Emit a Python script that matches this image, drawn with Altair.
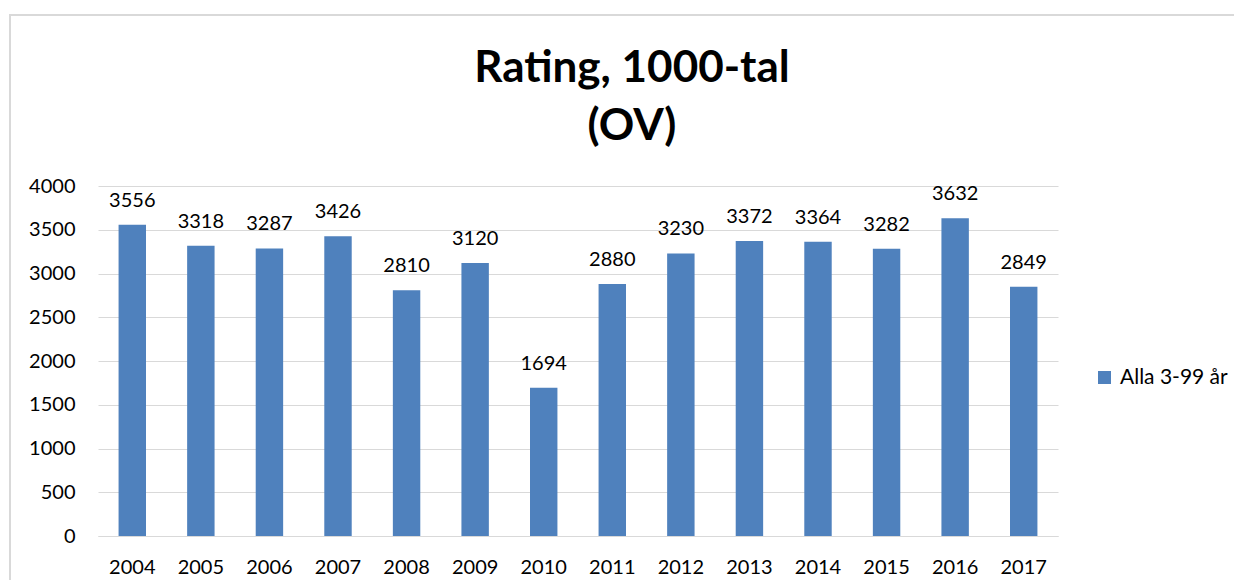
import altair as alt
import pandas as pd

years = ["2004", "2005", "2006", "2007", "2008", "2009", "2010",
         "2011", "2012", "2013", "2014", "2015", "2016", "2017"]
values = [3556, 3318, 3287, 3426, 2810, 3120, 1694,
          2880, 3230, 3372, 3364, 3282, 3632, 2849]
series = ["Alla 3-99 år"] * len(years)
title_lines = ["Rating, 1000-tal", "(OV)"]

df = pd.DataFrame({"year": years, "value": values, "series": series})
tdf = pd.DataFrame({"line": title_lines})

FONT = "Lato"
FS = 20

base = alt.Chart(df)

frame = base.mark_rect(filled=False, stroke="#d9d9d9", strokeWidth=2).encode(
    x=alt.value(-88), x2=alt.value(1300), y=alt.value(-171), y2=alt.value(700)
).transform_filter("datum.year == '2004'")

bars = base.mark_bar(color="#4F81BD").encode(
    x=alt.X("year:N", sort=years, title=None,
            scale=alt.Scale(paddingInner=0.6, paddingOuter=0.3),
            axis=alt.Axis(labelAngle=0, labelFontSize=FS, labelFont=FONT,
                          labelColor="#000000", labelPadding=21, ticks=False,
                          grid=False, domainColor="#d9d9d9", domainWidth=1)),
    y=alt.Y("value:Q", title=None,
            scale=alt.Scale(domain=[0, 4000]),
            axis=alt.Axis(values=list(range(0, 4001, 500)), format="d",
                          labelFontSize=FS, labelFont=FONT,
                          labelColor="#000000", labelPadding=23,
                          ticks=False, domain=False, gridColor="#d9d9d9",
                          gridWidth=1)),
    color=alt.Color("series:N", title=None,
                    scale=alt.Scale(range=["#4F81BD"]),
                    legend=alt.Legend(orient="none", legendX=996, legendY=181,
                                      symbolType="square", symbolSize=170,
                                      symbolStrokeWidth=0, labelFontSize=21,
                                      labelFont=FONT, labelColor="#000000",
                                      labelOffset=5)),
)

labels = base.mark_text(baseline="bottom", dy=-14, fontSize=FS, font=FONT,
                        color="#000000").encode(
    x=alt.X("year:N", sort=years),
    y="value:Q",
    text="value:Q",
)

title1 = alt.Chart(tdf).mark_text(fontSize=44, font=FONT, fontWeight="bold",
                                  color="#000000", baseline="alphabetic",
                                  align="center").encode(
    text="line:N", x=alt.value(534), y=alt.value(-104)
).transform_filter(alt.datum.line == title_lines[0])

title2 = alt.Chart(tdf).mark_text(fontSize=44, font=FONT, fontWeight="bold",
                                  color="#000000", baseline="alphabetic",
                                  align="center").encode(
    text="line:N", x=alt.value(534), y=alt.value(-46)
).transform_filter(alt.datum.line == title_lines[1])

chart = alt.layer(frame, bars, labels, title1, title2).properties(
    width=960, height=350,
    background="white",
    autosize=alt.AutoSizeParams(type="none"),
    padding={"left": 90, "top": 178, "right": 176, "bottom": 44},
).configure_view(stroke="transparent", strokeWidth=0)

chart.save("out.html", embed_options={"renderer": "svg", "actions": False})
